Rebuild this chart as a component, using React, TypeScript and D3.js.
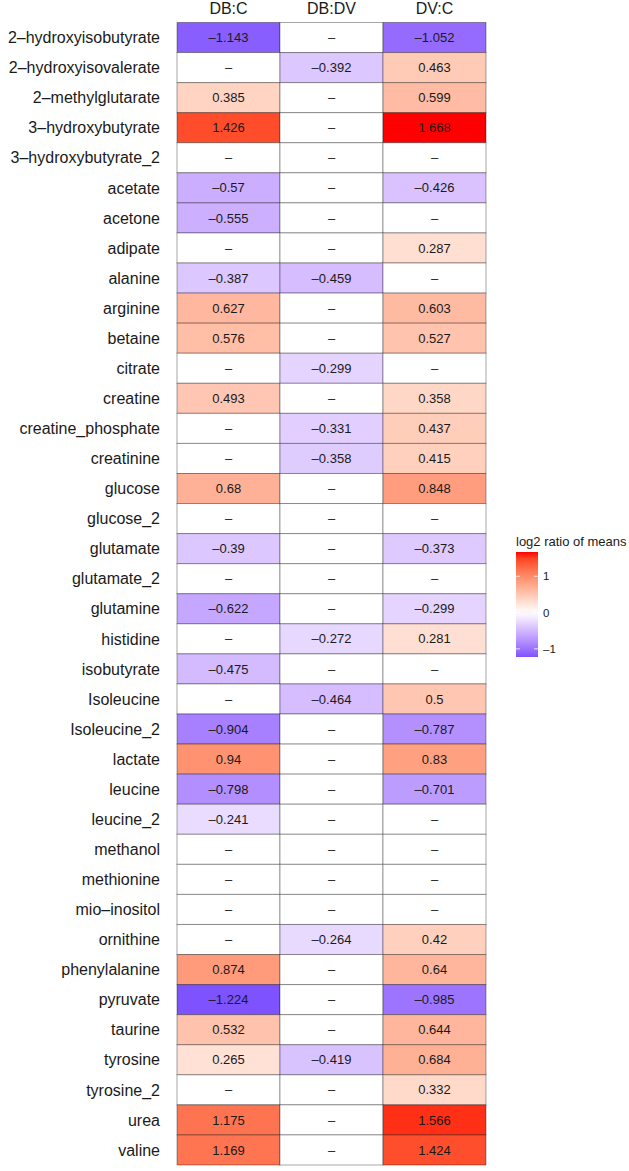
import React, { useEffect, useRef } from 'react';
import * as d3 from 'd3';

const metabolites = [
  '2–hydroxyisobutyrate', '2–hydroxyisovalerate', '2–methylglutarate', '3–hydroxybutyrate',
  '3–hydroxybutyrate_2', 'acetate', 'acetone', 'adipate', 'alanine', 'arginine', 'betaine',
  'citrate', 'creatine', 'creatine_phosphate', 'creatinine', 'glucose', 'glucose_2',
  'glutamate', 'glutamate_2', 'glutamine', 'histidine', 'isobutyrate', 'Isoleucine',
  'Isoleucine_2', 'lactate', 'leucine', 'leucine_2', 'methanol', 'methionine',
  'mio–inositol', 'ornithine', 'phenylalanine', 'pyruvate', 'taurine', 'tyrosine',
  'tyrosine_2', 'urea', 'valine',
];

const contrasts = ['DB:C', 'DB:DV', 'DV:C'];

const dbC = [
  -1.143, null, 0.385, 1.426, null, -0.57, -0.555, null, -0.387, 0.627, 0.576,
  null, 0.493, null, null, 0.68, null, -0.39, null, -0.622, null, -0.475, null,
  -0.904, 0.94, -0.798, -0.241, null, null, null, null, 0.874, -1.224, 0.532, 0.265,
  null, 1.175, 1.169,
];
const dbDv = [
  null, -0.392, null, null, null, null, null, null, -0.459, null, null,
  -0.299, null, -0.331, -0.358, null, null, null, null, null, -0.272, null, -0.464,
  null, null, null, null, null, null, null, -0.264, null, null, null, -0.419,
  null, null, null,
];
const dvC = [
  -1.052, 0.463, 0.599, 1.668, null, -0.426, null, 0.287, null, 0.603, 0.527,
  null, 0.358, 0.437, 0.415, 0.848, null, -0.373, null, -0.299, 0.281, null, 0.5,
  -0.787, 0.83, -0.701, null, null, null, null, 0.42, 0.64, -0.985, 0.644, 0.684,
  0.332, 1.566, 1.424,
];

const legendTicks = [-1, 0, 1];

const App = () => {
  const ref = useRef<SVGSVGElement>(null);

  useEffect(() => {
    const svg = d3.select(ref.current);
    svg.selectAll('*').remove();

    const series = [dbC, dbDv, dvC];
    const cells = [];
    metabolites.forEach((m, i) => {
      contrasts.forEach((c, j) => {
        cells.push({ m, c, v: series[j][i] });
      });
    });

    const all = series.flat().filter(v => v != null) as number[];
    const lo = d3.min(all) as number;
    const hi = d3.max(all) as number;
    const maxAbs = Math.max(Math.abs(lo), Math.abs(hi));

    // gradient2 style: white in the middle, blue / red at +-maxAbs, Lab interpolation
    const neg = d3.scaleLinear<string>().domain([-maxAbs, 0]).range(['blue', 'white']).interpolate(d3.interpolateLab);
    const pos = d3.scaleLinear<string>().domain([0, maxAbs]).range(['white', 'red']).interpolate(d3.interpolateLab);
    const fill = (v) => (v == null ? 'white' : v < 0 ? neg(v) : pos(v));

    const x = d3.scaleBand().domain(contrasts).range([177, 486]);
    const y = d3.scaleBand().domain(metabolites).range([22.5, 1165]);

    const font = 'Liberation Sans, Arial, Helvetica, sans-serif';

    svg.append('g')
      .selectAll('rect')
      .data(cells)
      .enter().append('rect')
      .attr('x', d => x(d.c))
      .attr('y', d => y(d.m))
      .attr('width', x.bandwidth())
      .attr('height', y.bandwidth())
      .attr('fill', d => fill(d.v))
      .attr('stroke', 'rgba(0,0,0,0.35)')
      .attr('stroke-width', 1);

    const fmt = (v) => (v == null ? '–' : String(v).replace('-', '–'));

    svg.append('g')
      .selectAll('text')
      .data(cells)
      .enter().append('text')
      .attr('x', d => x(d.c) + x.bandwidth() / 2)
      .attr('y', d => y(d.m) + y.bandwidth() / 2 + 4.6)
      .attr('text-anchor', 'middle')
      .attr('font-family', font)
      .attr('font-size', 13)
      .attr('fill', '#1a1a1a')
      .text(d => fmt(d.v));

    // row labels
    svg.append('g')
      .selectAll('text')
      .data(metabolites)
      .enter().append('text')
      .attr('x', 160)
      .attr('y', d => y(d) + y.bandwidth() / 2 + 5.7)
      .attr('text-anchor', 'end')
      .attr('font-family', font)
      .attr('font-size', 16)
      .attr('fill', '#1a1a1a')
      .text(d => d);

    // column headers
    svg.append('g')
      .selectAll('text')
      .data(contrasts)
      .enter().append('text')
      .attr('x', d => x(d) + x.bandwidth() / 2)
      .attr('y', 14)
      .attr('text-anchor', 'middle')
      .attr('font-family', font)
      .attr('font-size', 16)
      .attr('fill', '#1a1a1a')
      .text(d => d);

    // legend
    const lg = svg.append('g');
    lg.append('text')
      .attr('x', 516)
      .attr('y', 545.5)
      .attr('font-family', font)
      .attr('font-size', 13)
      .attr('fill', '#1a1a1a')
      .text('log2 ratio of means');

    const barTop = 552;
    const barBottom = 657;
    const ly = d3.scaleLinear().domain([lo, hi]).range([barBottom, barTop]);

    const defs = svg.append('defs');
    const grad = defs.append('linearGradient')
      .attr('id', 'lgrad')
      .attr('x1', 0).attr('y1', 1).attr('x2', 0).attr('y2', 0);
    d3.range(0, 21).forEach(k => {
      const t = k / 20;
      grad.append('stop')
        .attr('offset', t)
        .attr('stop-color', fill(lo + t * (hi - lo)));
    });

    lg.append('rect')
      .attr('x', 516)
      .attr('y', barTop)
      .attr('width', 22)
      .attr('height', barBottom - barTop)
      .attr('fill', 'url(#lgrad)');

    legendTicks.forEach(t => {
      lg.append('line')
        .attr('x1', 516).attr('x2', 520)
        .attr('y1', ly(t)).attr('y2', ly(t))
        .attr('stroke', 'white').attr('stroke-width', 0.8);
      lg.append('line')
        .attr('x1', 534).attr('x2', 538)
        .attr('y1', ly(t)).attr('y2', ly(t))
        .attr('stroke', 'white').attr('stroke-width', 0.8);
      lg.append('text')
        .attr('x', 543)
        .attr('y', ly(t) + 4)
        .attr('font-family', font)
        .attr('font-size', 11.5)
        .attr('fill', '#1a1a1a')
        .text(t < 0 ? '–' + Math.abs(t) : String(t));
    });
  }, []);

  return (
    <svg ref={ref} width="629" height="1171" style={{ position: 'absolute', left: 0, top: 0, background: 'white' }}></svg>
  );
};

export default App;
